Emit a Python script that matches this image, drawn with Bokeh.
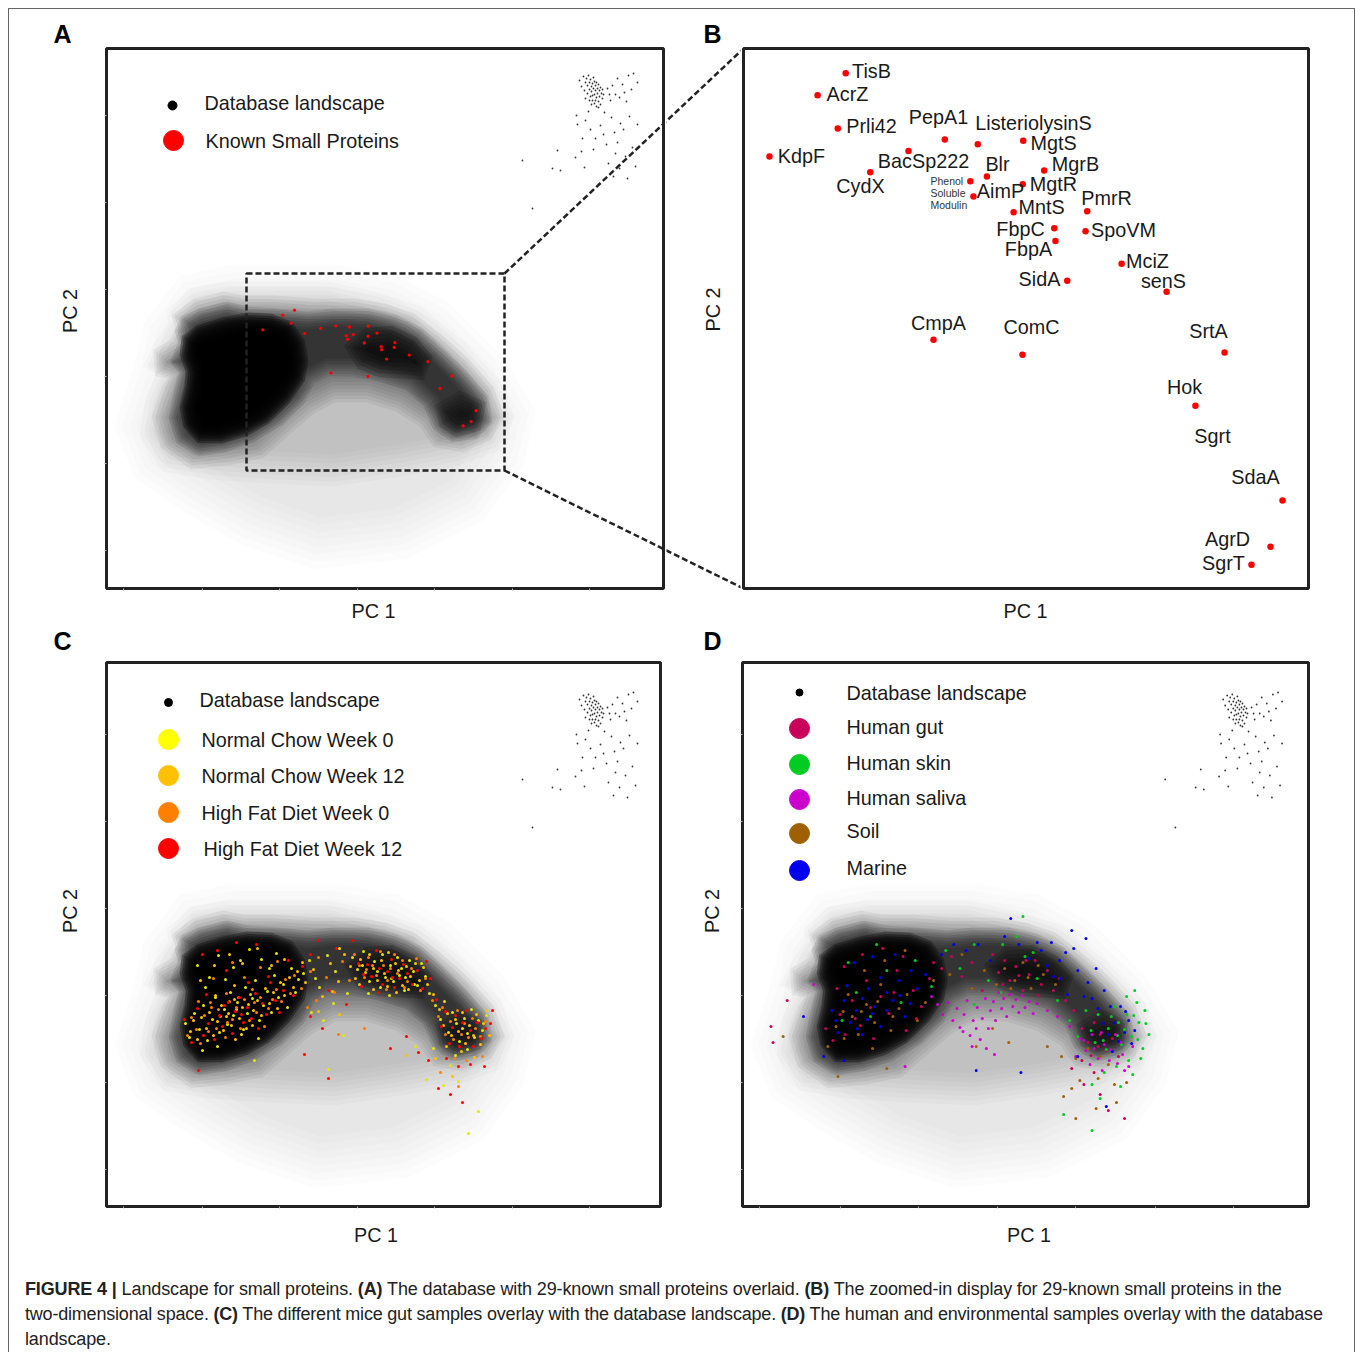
import math
from bokeh.plotting import figure
from bokeh.layouts import row, column
from bokeh.models import Label, Title, BoxAnnotation, FixedTicker, Range1d, Div
from bokeh.embed import file_html
from bokeh.resources import INLINE

HAZE = [(34,160),(51,210),(61,254),(87,290),(127,297),(227,297),(284,287),(327,264),(377,214),(404,170),(394,134),(361,87),(294,54),(211,44),(144,67),(87,100),(47,127)]
LIGHT = [(74,270),(91,285),(121,290),(167,290),(221,290),(267,280),(307,267),(347,234),(381,197),(392,170),(384,150),(347,137),(294,127),(227,117),(161,120),(104,124),(64,130),(49,154),(54,184),(66,214),(52,224),(62,237),(77,260)]
MID = [(76,267),(91,277),(117,284),(137,280),(167,280),(207,277),(247,277),(277,272),(301,264),(327,244),(354,220),(377,194),(386,170),(377,157),(354,147),(334,150),(321,170),(294,187),(261,197),(227,197),(201,184),(181,167),(151,140),(121,134),(87,130),(64,147),(57,170),(67,197),(72,214),(57,220),(56,230),(74,240),(81,257)]
DARK = [(81,264),(94,270),(121,277),(141,272),(171,270),(201,267),(227,270),(261,270),(287,264),(311,252),(334,230),(354,210),(374,187),(377,167),(367,157),(347,154),(334,164),(324,187),(304,205),(277,214),(247,220),(221,220),(201,210),(191,190),(171,170),(144,154),(117,144),(94,140),(77,150),(71,170),(76,194),(81,214),(78,222),(72,227),(76,233),(81,244),(77,257)]
CORE_LOBE = [(82,247),(94,255),(117,262),(141,267),(164,266),(181,259),(191,244),(194,227),(191,210),(177,190),(157,170),(137,159),(114,152),(94,152),(84,164),(81,180),(86,200),(87,217),(81,234)]
CORE_ARCH = [(247,240),(261,250),(284,252),(304,242),(317,227),(314,217),(294,219),(274,220),(257,227)]
CORE_TAIL = [(337,177),(354,187),(371,180),(367,164),(351,160),(341,167)]

OUTLIERS = [(473,507),(475,501),(477,511),(478,497),(479,505),(480,509),(481,494),(481,502),(482,512),(483,498),(483,505),(484,491),(484,508),(485,501),(485,496),(486,504),(486,487),(487,510),(487,499),(488,493),(488,506),(488,484),(489,502),(489,497),(490,490),(490,505),(490,481),(491,499),(491,494),(492,486),(492,503),(493,497),(493,491),(494,500),(494,483),(495,494),(496,489),(496,498),(497,493),(483,487),(486,492),(489,487),(492,480),(485,483),(479,489),
(501,499),(504,487),(506,502),(509,493),(511,509),(513,490),(516,503),(518,495),(522,512),(525,498),(527,514),(531,505),(520,486),(503,493),
(470,472),(482,476),(471,463),(479,467),(498,475),(494,462),(505,470),(514,464),(523,471),(531,463),(497,453),(508,455),(489,449),(484,458),(511,445),(517,458),(526,440),(487,438),(476,449),(500,443),(519,431),(509,434),(469,430),(475,436),(451,437),(502,424),(513,419),(446,419),(454,417),(478,420),(507,411),(521,409),(529,421),(416,427),(426,379)]

# ---------- known small proteins ----------
PROTEINS = ["TisB","AcrZ","Prli42","KdpF","PepA1","ListeriolysinS","MgtS","BacSp222","CydX","Blr","Phenol Soluble Modulin","MgrB","MgtR","AimP","MntS","PmrR","FbpC","SpoVM","FbpA","MciZ","SidA","senS","CmpA","ComC","SrtA","Hok","SdaA","AgrD","SgrT"]
PROTEIN_PC1 = [188.0,176.3,184.7,156.3,229.2,242.9,261.8,214.1,198.2,246.7,239.8,270.5,261.6,241.1,257.8,288.4,274.7,287.7,275.2,302.7,280.1,321.4,224.5,261.5,345.5,333.4,369.6,364.6,356.7]
PROTEIN_PC2 = [277.3,272.1,264.3,257.7,261.7,260.6,261.4,259.0,254.0,253.0,251.9,254.4,251.2,248.3,244.6,244.8,240.8,240.1,237.8,232.5,228.5,225.9,214.6,211.1,211.6,199.1,176.8,165.9,161.7]

# ---------- mice gut samples (panel C), sparse reading of the overlay ----------
NC_W0 = [(79,183),(83,169),(88,193),(93,177),(97,201),(101,166),(106,187),(109,209),(113,174),(118,197),(121,182),(124,214),(127,191),(131,204),(135,172),(139,219),(141,193),(146,208),(149,226),(153,186),(157,201),(161,215),(165,194),(168,231),(172,209),(177,222),(181,199),(185,238),(189,214),(192,227),
(91,241),(103,229),(112,251),(127,239),(143,257),(155,247),(170,253),(99,219),(119,227),(137,177),(152,168),(111,160),(96,156),(134,246),(163,238),
(197,233),(203,246),(213,219),(221,251),(229,235),(205,194),(227,203),(241,213),(217,186),(237,171),(209,228),(233,258),
(246,249),(251,237),(257,255),(263,225),(268,245),(271,235),(276,252),(279,229),(284,241),(287,225),(291,249),(295,238),(299,229),(303,246),(307,235),(311,221),(315,243),(319,230),(323,213),(262,213),(283,211),(298,216),(256,241),(274,219),(293,231),(308,222),
(329,201),(334,187),(338,205),(342,174),(346,194),(350,183),(353,165),(358,188),(361,173),(365,197),(368,169),(372,186),(376,176),(380,191),(349,151),(361,157),(344,141),(327,158),(356,178),
(309,160),(320,127),(337,121),(372,95),(362,73),(352,125),(222,137),(148,146)]
NC_W12 = [(84,175),(87,186),(91,167),(95,189),(100,178),(103,194),(107,171),(111,185),(115,201),(117,176),(122,193),(125,181),(128,207),(133,188),(136,199),(140,178),(144,212),(147,196),(151,206),(155,191),(159,218),(163,203),(167,214),(171,198),(174,224),(178,211),(183,229),(187,219),(191,235),(120,190),(130,197),(142,202),
(94,226),(108,241),(123,252),(136,243),(151,258),(165,241),(109,211),(128,221),(146,181),(129,167),(178,247),
(199,224),(207,237),(216,210),(224,243),(232,225),(238,252),(212,195),(233,192),(196,244),(226,215),
(244,240),(249,228),(254,247),(259,234),(263,252),(267,238),(271,226),(275,246),(278,233),(282,254),(285,228),(289,243),(292,236),(296,221),(300,240),(304,230),(309,243),(313,226),(317,239),(321,222),(327,212),(267,217),(290,214),(253,222),(281,220),(302,217),
(333,197),(337,181),(341,193),(345,171),(349,187),(352,175),(356,194),(359,163),(363,181),(367,171),(370,192),(374,162),(377,183),(383,171),(355,155),(368,149),(340,160),(380,196),(329,148),(346,130),(300,151)]
HFD_W0 = [(81,171),(85,189),(90,177),(94,163),(98,191),(102,175),(105,199),(110,178),(114,190),(119,169),(123,205),(126,187),(130,199),(134,178),(138,207),(143,186),(146,217),(150,194),(154,209),(158,180),(162,198),(166,207),(170,217),(175,205),(179,227),(184,213),(188,231),(112,197),(121,184),(132,209),(148,204),
(104,204),(120,213),(138,229),(154,239),(171,245),(92,205),(107,228),(126,244),
(195,218),(204,235),(212,249),(220,229),(228,214),(236,245),(210,206),(201,199),(243,226),
(248,252),(253,241),(258,229),(262,249),(266,241),(270,231),(274,255),(277,241),(281,226),(284,238),(288,252),(291,233),(296,246),(301,225),(305,238),(310,248),(314,216),(319,228),(326,206),(280,217),(260,237),(298,219),
(332,190),(336,199),(339,172),(344,185),(347,167),(351,196),(355,172),(358,183),(362,169),(366,188),(369,178),(374,170),(379,185),(348,148),(360,146),(376,150),(334,134),(352,120),(258,178),(232,172)]
HFD_W12 = [(78,187),(85,164),(91,198),(97,171),(102,183),(108,167),(113,191),(116,180),(122,204),(126,173),(129,195),(133,209),(137,184),(141,199),(145,188),(149,213),(152,178),(156,203),(160,192),(164,224),(169,206),(173,194),(177,216),(182,246),(187,211),(135,192),(118,201),
(96,252),(111,256),(130,264),(150,262),(100,212),(120,236),(92,136),(162,230),(142,224),
(196,240),(204,252),(212,266),(222,216),(230,258),(240,202),(216,178),(204,190),
(246,266),(252,243),(257,232),(261,242),(265,230),(270,256),(273,238),(276,222),(281,235),(285,247),(288,219),(293,228),(297,242),(301,233),(306,222),(311,236),(316,218),(320,245),(324,228),(330,207),(272,214),(255,220),(286,229),
(335,180),(339,195),(343,163),(346,179),(349,191),(353,160),(356,184),(360,196),(364,176),(367,160),(371,184),(375,168),(379,178),(384,183),(386,196),(340,148),(352,140),(364,142),(378,140),(312,154),(322,146),(332,118),(356,104),(344,112),(284,158),(300,170),(222,128),(198,152)]

# ---------- human and environmental samples (panel D) ----------
HUMAN_GUT = [(82,178),(89,166),(96,192),(101,172),(108,206),(116,181),(122,226),(129,168),(136,210),(144,193),(152,236),(161,176),(168,216),(176,200),(184,228),(188,244),(100,240),(118,252),(138,258),(158,250),(93,218),(126,199),(149,214),(111,188),(171,188),
(196,238),(206,250),(216,230),(226,244),(236,216),(246,252),(252,234),(258,246),(263,226),(269,240),(276,216),(282,232),(288,246),(294,222),(300,236),(306,216),(312,228),(256,222),(272,231),(291,211),(279,246),
(318,206),(326,196),(334,178),(340,164),(346,184),(352,172),(358,156),(364,168),(370,150),(346,134),(336,122),(352,112),(360,96),(324,138),(376,88),(28,180),(44,206),(30,164),(334,146),(343,151),(350,160)]
HUMAN_SKIN = [(98,186),(112,214),(126,190),(142,236),(156,204),(170,246),(186,220),(132,262),(104,244),(200,256),(214,238),(228,262),(242,226),(256,262),(270,270),(278,250),(290,228),(254,214),(310,206),
(322,186),(330,170),(338,196),(343,176),(350,192),(355,166),(360,178),(366,200),(370,184),(373,162),(378,192),(383,170),(388,204),(390,184),(394,158),(396,196),(400,172),(386,216),(378,210),(392,148),(380,146),(368,140),(356,134),(344,122),(384,132),(372,120),(352,108),(363,190),(376,177),(389,167),(369,171),(385,191),(397,183),(358,157),(347,164),
(276,290),(316,92),(344,76),(286,254),(228,202)]
HUMAN_SALIVA = [(186,210),(192,202),(197,192),(202,204),(207,186),(211,198),(214,179),(218,192),(221,206),(224,171),(227,186),(231,199),(234,167),(236,188),(239,208),(242,178),(244,196),(247,205),(249,186),(252,214),(255,198),(257,208),(260,190),(263,212),(266,200),(269,207),(272,194),(275,211),(278,199),(282,205),(286,193),(290,203),(240,158),(226,160),(248,152),(217,175),(230,178),
(300,196),(310,190),(322,180),(332,168),(338,156),(344,172),(350,148),(356,162),(361,146),(367,172),(374,152),(380,140),(384,160),(376,136),(354,136),(342,142),(328,150),(70,222),(372,164),(160,140),(346,158),(353,174),(362,157),(336,166),(369,143)]
SOIL = [(84,160),(92,180),(100,168),(108,190),(114,172),(122,202),(130,184),(136,222),(146,176),(154,198),(162,212),(172,186),(180,204),(120,236),(140,246),(160,256),(128,158),(104,212),(188,226),(117,195),(133,205),(148,190),(99,195),
(204,232),(216,252),(226,218),(238,236),(250,222),(258,238),(268,226),(276,244),(284,218),(296,232),(308,222),(264,218),(281,229),(291,241),
(246,178),(262,164),(230,160),(300,160),(314,150),(328,148),(340,158),(352,150),(360,142),(324,118),(332,126),(350,128),(366,122),(348,98),(316,110),(328,88),(378,124),(142,138),(40,170),(94,130),(368,104)]
MARINE = [(80,150),(88,196),(94,174),(100,206),(106,184),(112,196),(118,172),(124,218),(130,200),(136,180),(142,214),(148,206),(154,226),(160,190),(166,236),(172,218),(180,232),(110,244),(128,250),(150,252),(118,208),(142,196),(103,221),(123,187),(136,229),(113,178),(155,211),(128,193),(92,186),(165,203),
(196,252),(208,262),(220,256),(232,262),(244,246),(258,270),(272,262),(282,248),(294,256),(304,264),(312,246),(318,254),(326,258),(330,236),(340,224),(348,238),(356,216),(300,241),(313,228),(336,210),
(362,200),(350,198),(366,184),(372,200),(376,174),(380,186),(386,176),(360,172),(344,208),(370,165),(355,183),(377,195),(364,155),(383,163),(290,264),(338,268),(324,276),(306,230),(320,212),(100,146),(264,288),(230,136),(274,134),(358,100),(60,190),(330,150)]

# ---------- tick positions and legends ----------
PC1_TICKS = [17, 96, 173, 251, 328, 406, 483]
PC2_TICKS = [37, 124, 211, 298, 385, 472]
ZOOM_BOX = dict(left=140, right=398, bottom=117, top=314)
COLORS_C = ["#e6e600", "#ffc000", "#ff8000", "#ff0000"]
COLORS_D = ["#c8005a", "#00cc22", "#cc00cc", "#a06000", "#0000ee"]
LEGEND_C = ["Normal Chow Week 0", "Normal Chow Week 12", "High Fat Diet Week 0", "High Fat Diet Week 12"]
LEGEND_D = ["Human gut", "Human skin", "Human saliva", "Soil", "Marine"]
FONT = "Liberation Sans"
INK = "#1a1a1a"
DASH = "6 3"


def offset(poly, d):
    """Grow or shrink a contour by d, used only to soften its edge."""
    n = len(poly)
    area = sum(poly[i][0] * poly[(i + 1) % n][1] - poly[(i + 1) % n][0] * poly[i][1] for i in range(n))
    sign = 1 if area > 0 else -1
    xs, ys = [], []
    for i in range(n):
        tx = poly[(i + 1) % n][0] - poly[i - 1][0]
        ty = poly[(i + 1) % n][1] - poly[i - 1][1]
        ln = math.hypot(tx, ty) or 1
        xs.append(poly[i][0] + sign * d * ty / ln)
        ys.append(poly[i][1] - sign * d * tx / ln)
    return xs, ys


class Panel:
    def __init__(self, cx, cy, cw, ch, fl, ft, fw, fh, xr, yr, ticks=True, bare=False):
        self.fl, self.ft, self.fw, self.fh, self.xr, self.yr = fl, ft, fw, fh, xr, yr
        p = figure(width=cw, height=ch, x_range=Range1d(*xr), y_range=Range1d(*yr),
                   toolbar_location=None, output_backend="svg", title=None, min_border=1,
                   min_border_left=fl - cx, min_border_right=cx + cw - fl - fw,
                   min_border_top=ft - cy, min_border_bottom=cy + ch - ft - fh,
                   outline_line_color=None if bare else "#222222", outline_line_width=3,
                   background_fill_color="white", border_fill_color="white",
                   x_axis_location=None if bare else "below", y_axis_location=None if bare else "left")
        p.grid.visible = False
        if not bare:
            for ax, tk in ((p.xaxis, PC1_TICKS), (p.yaxis, PC2_TICKS)):
                tk = tk if ticks else []
                ax.ticker = FixedTicker(ticks=tk)
                ax.major_label_overrides = {t: "" for t in tk}
                ax.axis_line_color = None
                ax.major_tick_line_color = "#b0b0b0"
                ax.major_tick_out = 2
                ax.major_tick_in = 0
                ax.minor_tick_line_color = None
        self.p = p

    def dx(self, px):
        return self.xr[0] + (px - self.fl) / self.fw * (self.xr[1] - self.xr[0])

    def dy(self, py):
        return self.yr[1] - (py - self.ft) / self.fh * (self.yr[1] - self.yr[0])

    def text(self, s, px, py, size=19.8, align="left", bold=False, angle=0, color=INK):
        self.p.add_layout(Label(x=px - self.fl, y=self.ft + self.fh - py + 1, x_units="screen", y_units="screen",
                                text=s, text_font=FONT,
                                text_font_size=f"{size}px", text_align=align,
                                text_baseline="middle", text_color=color, angle=angle,
                                text_font_style="bold" if bold else "normal"))

    def letter(self, s, px, py):
        self.text(s, px, py, size=25, align="center", bold=True, color="black")

    def side_title(self, s, side, off, standoff):
        self.p.add_layout(Title(text=s, align="left", offset=off, standoff=standoff, text_font=FONT,
                                text_font_size="19.8px", text_font_style="normal", text_color=INK), side)

    def pc1(self, center_x, standoff):
        self.side_title("PC 1", "below", center_x - 21.5 - self.fl, standoff)

    def pc2(self, center_y, standoff):
        self.side_title("PC 2", "left", self.ft + self.fh - (center_y + 21.5), standoff)

    def key(self, px, py, size, color):
        self.p.scatter([self.dx(px)], [self.dy(py)], size=size, color=color)

    def connector(self, p0, p1):
        self.p.line([self.dx(p0[0]), self.dx(p1[0])], [self.dy(p0[1]), self.dy(p1[1])],
                    line_color="#222222", line_width=2.5, line_dash=DASH)

    def cloud(self):
        levels = [(HAZE, .08, 26, 0, 8), (LIGHT, .14, 16, 0, 8), (MID, .34, 12, 0, 8), (DARK, .56, 9, 0, 8),
                  (CORE_LOBE, .99, 13, -5, 12), (CORE_ARCH, .65, 10, 0, 6), (CORE_TAIL, .55, 10, 0, 6)]
        for poly, a, spread, bias, n in levels:
            each = 1 - (1 - a) ** (1 / n)
            for k in range(n):
                d = bias + spread * (2 * k / (n - 1) - 1)
                xs, ys = offset(poly, d)
                self.p.patch(xs, ys, fill_color="black", fill_alpha=each, line_alpha=0)
        self.p.scatter([c[0] for c in OUTLIERS], [c[1] for c in OUTLIERS], size=1.8,
                       color="black", alpha=.8, line_color=None)

    def dots(self, pts, color, size=3):
        self.p.scatter([c[0] for c in pts], [c[1] for c in pts], size=size, color=color, line_color=None)


TOP_LINK = ((504, 273), (743, 48))
BOTTOM_LINK = ((504, 470), (743, 588))

# ---------- strip with the letters of the top panels ----------
S1 = Panel(9, 9, 1345, 38, 10, 10, 1343, 36, (10, 1353), (46, 10), ticks=False, bare=True)
S1.letter("A", 62, 34.5)
S1.letter("B", 712, 34.5)

# ---------- panel A (frames of one row are aligned by the layout) ----------
A = Panel(9, 47, 656, 545, 106, 48, 557, 540, (0, 557), (-1, 539))
A.cloud()
A.p.scatter(PROTEIN_PC1, PROTEIN_PC2, size=3.2, color="#ff0000", line_color=None)
A.p.add_layout(BoxAnnotation(fill_color=None, line_color="#222222", line_alpha=1, line_width=2.5, line_dash=DASH, **ZOOM_BOX))
A.connector(*TOP_LINK)
A.connector(*BOTTOM_LINK)
A.key(172, 105, 9, "black")
A.key(173, 140, 20, "#ff0000")
A.text("Database landscape", 204, 103)
A.text("Known Small Proteins", 205, 141)
A.pc2(311, 48)

# ---------- gap between A and B: connectors and B's axis title ----------
G = Panel(665, 47, 76, 545, 666, 48, 74, 540, (666, 740), (588, 48), ticks=False, bare=True)
G.connector(*TOP_LINK)
G.connector(*BOTTOM_LINK)
G.text("PC 2", 712, 310, align="center", angle=math.pi / 2)

# ---------- panel B ----------
B = Panel(741, 47, 613, 545, 743, 48, 565, 540, (145.5, 380.4), (156.1, 283.1), ticks=False)
B.p.scatter(PROTEIN_PC1, PROTEIN_PC2, size=6.5, color="#ff0000", line_color=None)
LABEL_AT = {"TisB": (871,71), "AcrZ": (847,94), "Prli42": (871,126), "KdpF": (801,156), "PepA1": (938,117),
            "ListeriolysinS": (1033,123), "MgtS": (1053,143), "BacSp222": (923,161), "CydX": (860,186),
            "Blr": (997,164), "MgrB": (1075,164), "MgtR": (1053,184), "AimP": (1000,191), "MntS": (1041,207),
            "PmrR": (1106,198), "FbpC": (1020,229), "SpoVM": (1123,230), "FbpA": (1028,249), "MciZ": (1147,261),
            "SidA": (1039,279), "senS": (1163,281), "CmpA": (938,323), "ComC": (1031,327), "SrtA": (1208,331),
            "Hok": (1184,387), "Sgrt": (1212,436), "SdaA": (1255,477), "AgrD": (1227,539), "SgrT": (1223,563)}
for name, (lx, ly) in LABEL_AT.items():
    B.text(name, lx, ly, align="center")
for word, ly in (("Phenol", 181), ("Soluble", 193), ("Modulin", 205)):
    B.text(word, 930, ly, size=10.5, color="#333333")

# ---------- strip between the rows: PC 1 of the top panels, letters of the bottom ones ----------
S2 = Panel(9, 592, 1345, 62, 10, 593, 1343, 60, (10, 1353), (653, 593), ticks=False, bare=True)
S2.text("PC 1", 373, 611, align="center")
S2.text("PC 1", 1025, 611, align="center")
S2.letter("C", 62, 641)
S2.letter("D", 712, 641)

# ---------- panel C ----------
C = Panel(9, 654, 671, 611, 106, 662, 554, 544, (0, 554), (0, 544))
C.cloud()
for pts, col in zip((NC_W0, NC_W12, HFD_W0, HFD_W12), COLORS_C):
    C.dots(pts, col)
C.key(168, 702, 8, "black")
C.text("Database landscape", 199, 700)
for name, col, ky, tx in zip(LEGEND_C, ("#ffff00", "#ffc000", "#ff8000", "#ff0000"), (739, 775, 812, 848), (201, 201, 201, 203)):
    C.key(168, ky, 20, col)
    C.text(name, tx, ky + 1)
C.pc1(375, 26)
C.pc2(911, 48)

# ---------- panel D ----------
D = Panel(680, 654, 674, 611, 742, 662, 566, 544, (0, 557), (0, 544))
D.cloud()
for pts, col in zip((SOIL, HUMAN_GUT, HUMAN_SKIN, HUMAN_SALIVA, MARINE), (COLORS_D[3], COLORS_D[0], COLORS_D[1], COLORS_D[2], COLORS_D[4])):
    D.dots(pts, col)
D.key(799, 692, 7, "black")
D.text("Database landscape", 846, 693)
for name, col, ky, ty in zip(LEGEND_D, COLORS_D, (728, 764, 799, 833, 870), (727, 763, 798, 831, 868)):
    D.key(799, ky, 20, col)
    D.text(name, 846, ty)
D.pc1(1028, 26)
D.pc2(911, 36)

# ---------- caption ----------
CAPTION = ("<b>FIGURE 4 |</b> Landscape for small proteins. <b>(A)</b> The database with 29-known small proteins overlaid. "
           "<b>(B)</b> The zoomed-in display for 29-known small proteins in the<br>"
           "<span style='letter-spacing:-0.2px'>two-dimensional space. <b>(C)</b> The different mice gut samples overlay with the database landscape. "
           "<b>(D)</b> The human and environmental samples overlay with the database</span><br>landscape.")
caption = Div(text=CAPTION, width=1325, height=75, margin=(12, 0, 0, 16),
              styles={"font-family": FONT, "font-size": "18px", "letter-spacing": "-0.13px", "line-height": "25px",
                      "color": "#222222", "white-space": "nowrap"})

root = column(S1.p, row(A.p, G.p, B.p, spacing=0), S2.p, row(C.p, D.p, spacing=0), caption, spacing=0, margin=(8, 0, 0, 8),
              styles={"border-top": "1px solid #666666", "border-left": "1px solid #666666",
                      "border-right": "1px solid #666666"})
open("out.html", "w").write(file_html(root, INLINE))
